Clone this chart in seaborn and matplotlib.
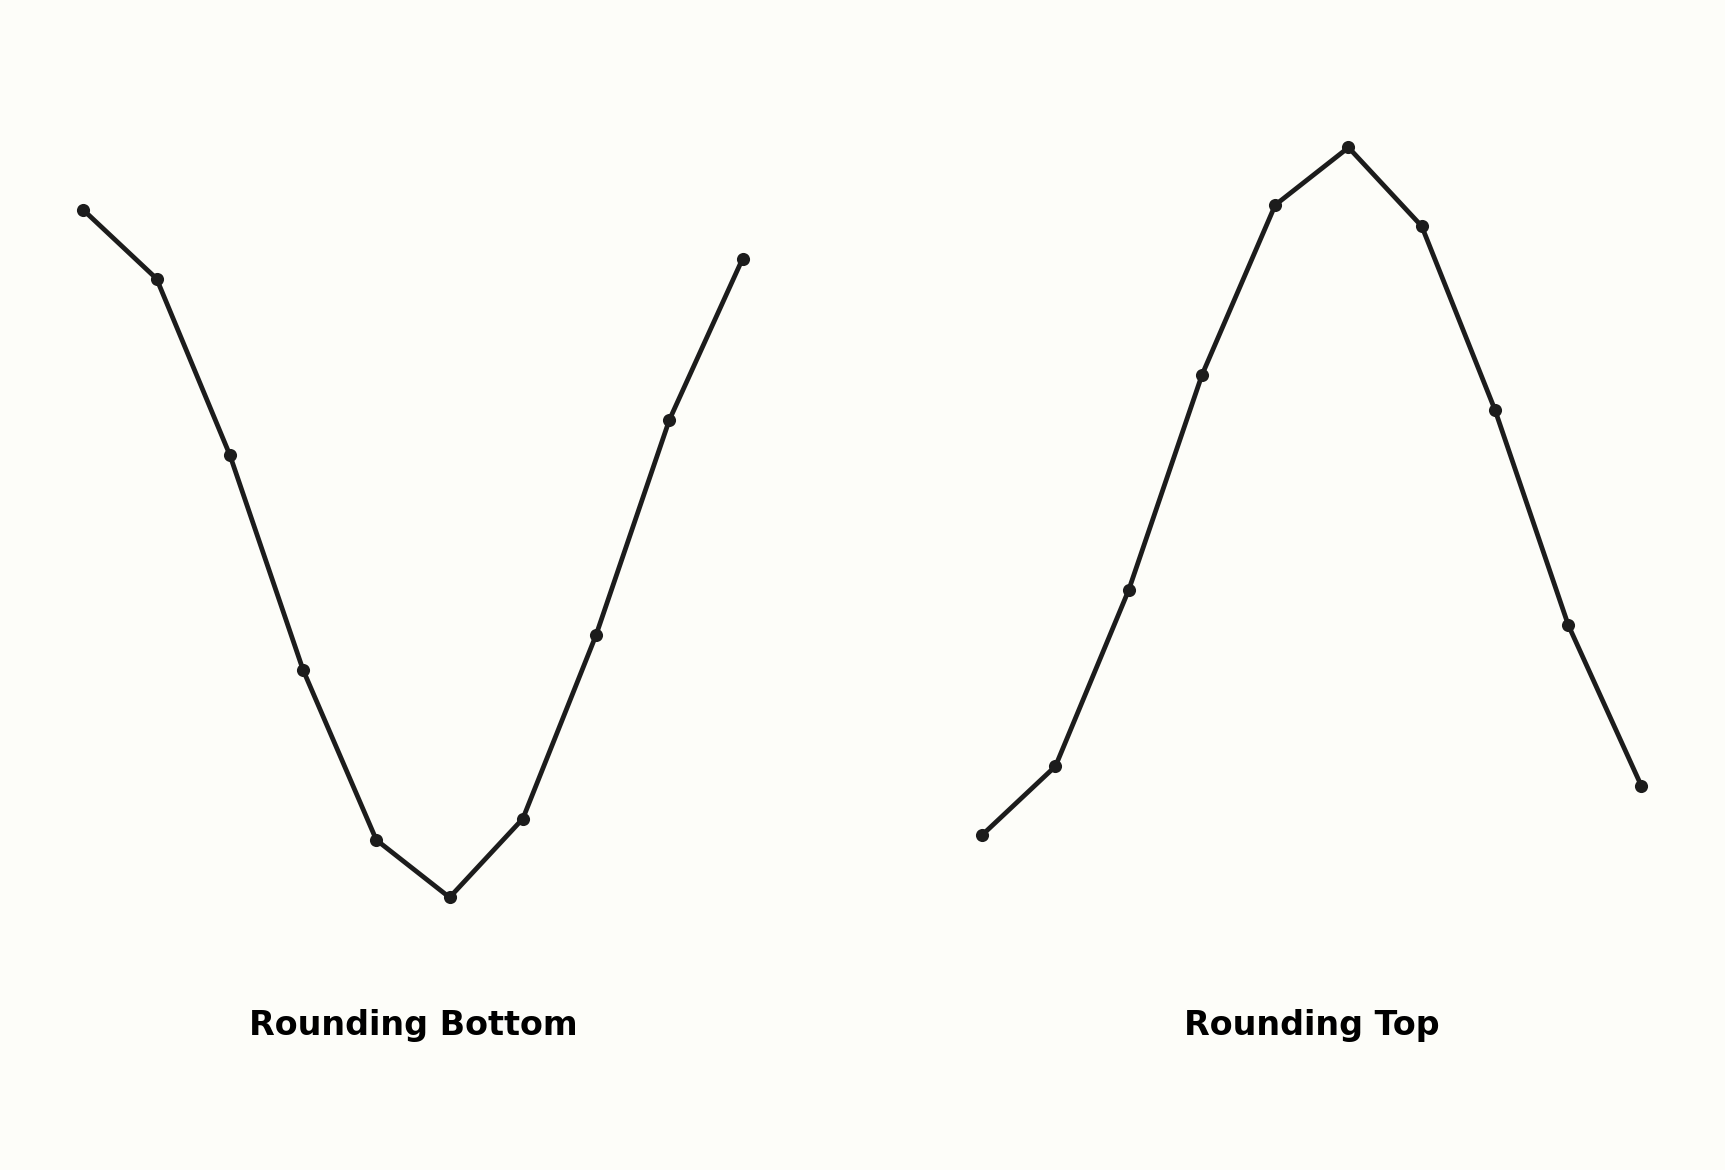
import matplotlib
matplotlib.use("Agg")
import matplotlib.pyplot as plt
import seaborn as sns
import pandas as pd

# data
sessions = list(range(10))
bottom_prices = [75.0, 69.5, 55.4, 38.2, 24.6, 20.0, 26.3, 41.0, 58.2, 71.1]
top_prices = [25.0, 30.5, 44.6, 61.8, 75.4, 80.0, 73.7, 59.0, 41.8, 28.9]
titles = ["Rounding Bottom", "Rounding Top"]

sns.set_style("white")
bg = "#fdfdf9"
fig = plt.figure(figsize=(11.5, 7.8), dpi=150, facecolor=bg)

ax1 = fig.add_axes([0.0292, 0.2009, 0.4204, 0.7051])
ax2 = fig.add_axes([0.5503, 0.2009, 0.4204, 0.7051], sharey=ax1)

for ax, prices, title in zip([ax1, ax2], [bottom_prices, top_prices], titles):
    df = pd.DataFrame({"session": sessions, "price": prices})
    sns.lineplot(data=df, x="session", y="price", ax=ax, color="#1c1c1c",
                 linewidth=2.3, marker="o", markersize=6.3,
                 markeredgewidth=0)
    ax.set_axis_off()
    ax.set_facecolor(bg)
    ax.text(0.5, -0.121, title, transform=ax.transAxes, ha="center",
            va="baseline", fontsize=16, fontweight="bold", color="black",
            family="DejaVu Sans")

fig.savefig("out.png", dpi=150, facecolor=bg)
